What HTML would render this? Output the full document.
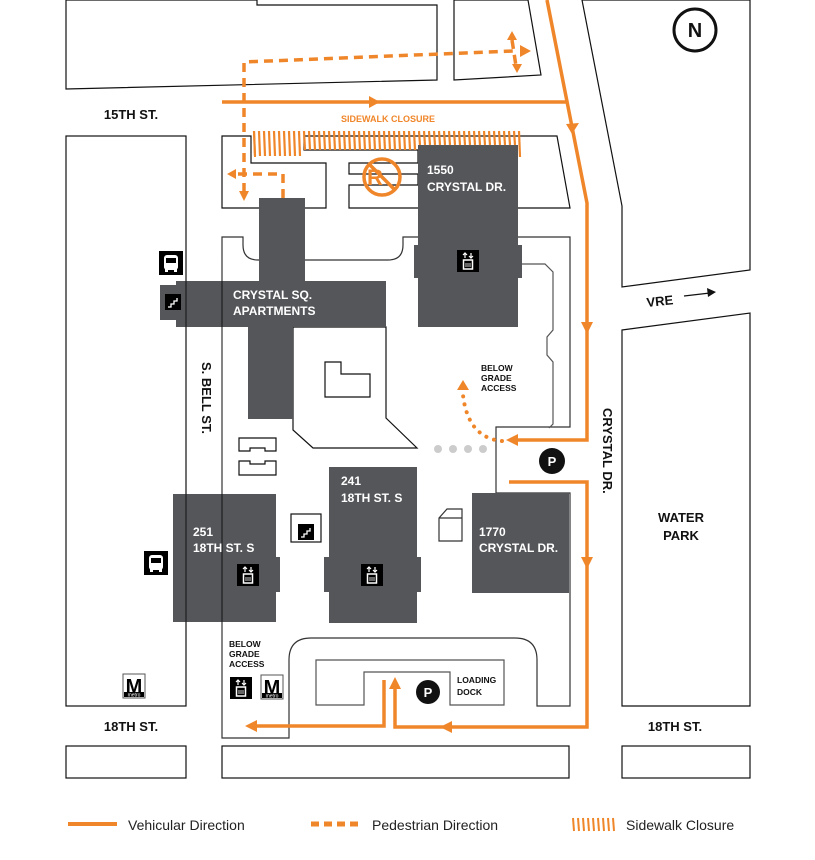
<!DOCTYPE html>
<html><head><meta charset="utf-8"><style>
html,body{margin:0;padding:0;background:#fff;}
svg{display:block;}
text{font-family:"Liberation Sans",sans-serif;}
.b{font-weight:bold;}
</style></head><body>
<svg width="815" height="860" viewBox="0 0 815 860" xmlns="http://www.w3.org/2000/svg">
<defs>
<g id="elev"><rect x="-11" y="-11" width="22" height="22" fill="#000"/><rect x="-4.5" y="-1" width="9" height="9" fill="none" stroke="#fff" stroke-width="1.5"/><path d="M-3 -3 V-8 M-5 -6 L-3 -8 L-1 -6 M3 -8 V-3 M1 -5 L3 -3 L5 -5" stroke="#fff" stroke-width="1.2" fill="none"/><path d="M-2 2 V6 M0 2 V6 M2 2 V6" stroke="#fff" stroke-width="0.8"/></g>
<g id="bus"><rect x="-12" y="-12" width="24" height="24" fill="#000"/><rect x="-7" y="-8" width="14" height="15" rx="3" fill="#fff"/><rect x="-5" y="-5" width="10" height="5" fill="#000"/><rect x="-6" y="6" width="3" height="3" fill="#fff"/><rect x="3" y="6" width="3" height="3" fill="#fff"/></g>
<g id="stair"><rect x="-8" y="-8" width="16" height="16" fill="#000"/><path d="M-5 5 H-2 V2 H1 V-1 H4 V-4" stroke="#fff" stroke-width="1.3" fill="none"/></g>
<g id="metro"><rect x="-11" y="-12" width="22" height="24" fill="#fff" stroke="#555" stroke-width="1"/><text x="0" y="7" text-anchor="middle" font-size="20" font-weight="bold" fill="#000" font-family="Liberation Sans">M</text><rect x="-10" y="6" width="20" height="5" fill="#000"/><text x="0" y="10.5" text-anchor="middle" font-size="5" fill="#fff" font-family="Liberation Sans">metro</text></g>
</defs>
<g fill="none" stroke="#111" stroke-width="1.2">
<polygon points="66,0 66,89 437,80 437,5 257,5 257,0"/>
<polygon points="454,0 454,80 541,75 528,0"/>
<polygon points="582,0 622,206 622,287 750,270 750,0"/>
<polygon points="622,330 750,313 750,706 622,706"/>
<rect x="66" y="136" width="120" height="570"/>
<polygon points="222,136 222,208 326,208 326,163 251,163 251,136"/>
<polygon points="304,136 557,136 570,208 349,208 349,185 418,185 418,174 349,174 349,163 418,163 418,150 304,150"/>
<path d="M222,738 V237 H243 V245 Q243,260 258,260 H388 Q403,260 403,245 V237 H570 V427 H496 V493 H570 V706 H537 V660 Q537,638 515,638 H311 Q289,638 289,660 V738 Z" stroke="#333"/>
<path d="M522,264 H545 L553,272 V330 L547,337 V355 L553,362 V424 L549,428" stroke="#555"/>
<polygon points="293,327 293,430 313,448 417,448 386,418 386,327"/>
<polygon points="325,362 341,362 341,374 370,374 370,397 325,397"/>
<polygon points="239,438 276,438 276,451 265,451 265,448 250,448 250,451 239,451"/>
<polygon points="239,461 250,461 250,464 265,464 265,461 276,461 276,475 239,475"/>
<polygon points="316,660 504,660 504,705 450,705 450,672 364,672 364,705 316,705" stroke="#555"/>
<rect x="291" y="514" width="30" height="28"/>
<path d="M439,518 L447,509 H462 V541 H439 Z M439,518 H462" stroke="#333"/>
<rect x="66" y="746" width="120" height="32"/>
<rect x="222" y="746" width="347" height="32"/>
<rect x="622" y="746" width="128" height="32"/>
</g>
<!-- buildings -->
<g fill="#55565a">
<rect x="418" y="145" width="100" height="182"/><rect x="414" y="245" width="108" height="33"/>
<rect x="259" y="198" width="46" height="84"/><rect x="176" y="281" width="210" height="46"/><rect x="160" y="285" width="16" height="35"/><rect x="248" y="326" width="45" height="93"/>
<rect x="173" y="494" width="103" height="128"/><rect x="276" y="557" width="4" height="35"/>
<rect x="329" y="467" width="88" height="156"/><rect x="324" y="557" width="5" height="35"/><rect x="417" y="557" width="4" height="35"/>
<rect x="472" y="493" width="97" height="100"/>
</g>
<line x1="186" y1="281" x2="186" y2="327" stroke="#111" stroke-width="1"/>
<line x1="222" y1="281" x2="222" y2="327" stroke="#111" stroke-width="1"/>
<line x1="222" y1="494" x2="222" y2="622" stroke="#111" stroke-width="1"/>
<line x1="186" y1="494" x2="186" y2="622" stroke="#111" stroke-width="1"/>
<g fill="#fff" font-size="12" class="b" font-weight="bold">
<text x="427" y="174">1550</text><text x="427" y="191">CRYSTAL DR.</text>
<text x="233" y="299">CRYSTAL SQ.</text><text x="233" y="315">APARTMENTS</text>
<text x="193" y="536">251</text><text x="193" y="552">18TH ST. S</text>
<text x="341" y="485">241</text><text x="341" y="502">18TH ST. S</text>
<text x="479" y="536">1770</text><text x="479" y="552">CRYSTAL DR.</text>
</g>
<use href="#elev" x="468" y="261"/><use href="#elev" x="248" y="575"/><use href="#elev" x="372" y="575"/><use href="#elev" x="241" y="688"/>
<use href="#bus" x="171" y="263"/><use href="#bus" x="156" y="563"/>
<use href="#stair" x="173" y="302"/><use href="#stair" x="306" y="532"/>
<use href="#metro" x="134" y="686"/><use href="#metro" x="272" y="687"/>
<!-- orange -->
<g stroke="#f0862a" stroke-width="3.5" fill="none">
<polyline points="547,0 587,203 587,440 512,440"/>
<polyline points="509,482 587,482 587,727 395,727 395,684"/>
<polyline points="384,680 384,726 252,726"/>
<line x1="222" y1="102" x2="567" y2="102"/>
<g stroke-dasharray="9,6">
<polyline points="244,192 244,62 513,51"/>
<polyline points="283,198 283,174 236,174"/>
<line x1="512" y1="40" x2="516" y2="66"/>
</g>
<circle cx="382" cy="177" r="18"/><line x1="369" y1="164" x2="395" y2="190"/>
</g>
<text x="375" y="185" font-size="22" font-weight="bold" fill="#f0862a" text-anchor="middle">R</text>
<g fill="#f0862a">
<polygon points="380,102 369,96 369,108"/>
<polygon points="572,134 566,124 579,123"/>
<polygon points="587,334 581,322 593,322"/>
<polygon points="587,569 581,557 593,557"/>
<polygon points="506,440 518,434 518,446"/>
<polygon points="440,727 452,721 452,733"/>
<polygon points="395,677 389,689 401,689"/>
<polygon points="245,726 257,720 257,732"/>
<polygon points="531,51 520,45 520,57"/>
<polygon points="512,31 507,40 517,40"/>
<polygon points="517,73 512,64 522,64"/>
<polygon points="244,201 239,191 249,191"/>
<polygon points="227,174 236,169 236,179"/>
<polygon points="463,380 457,390 469,390"/>
</g>
<path d="M502,441 Q468,438 463,395" stroke="#f0862a" stroke-width="4" stroke-linecap="round" stroke-dasharray="0.1,8" fill="none"/>
<path d="M252,131 H521 V155 H252Z" fill="none"/>
<g stroke="#f0862a" stroke-width="2">
<path id="hatch" d="M254,131 l1,26"/>
</g>
<g stroke="#f0862a" stroke-width="2.2">
<line x1="254" y1="131" x2="255" y2="156"/><line x1="259" y1="131" x2="260" y2="156"/><line x1="264" y1="131" x2="265" y2="156"/><line x1="269" y1="131" x2="270" y2="156"/><line x1="274" y1="131" x2="275" y2="156"/><line x1="279" y1="131" x2="280" y2="156"/><line x1="284" y1="131" x2="285" y2="156"/><line x1="289" y1="131" x2="290" y2="156"/><line x1="294" y1="131" x2="295" y2="156"/><line x1="299" y1="131" x2="300" y2="156"/>
<line x1="304" y1="131" x2="305" y2="150"/><line x1="309" y1="131" x2="310" y2="150"/><line x1="314" y1="131" x2="315" y2="150"/><line x1="319" y1="131" x2="320" y2="150"/><line x1="324" y1="131" x2="325" y2="150"/><line x1="329" y1="131" x2="330" y2="150"/><line x1="334" y1="131" x2="335" y2="150"/><line x1="339" y1="131" x2="340" y2="150"/><line x1="344" y1="131" x2="345" y2="150"/><line x1="349" y1="131" x2="350" y2="150"/><line x1="354" y1="131" x2="355" y2="150"/><line x1="359" y1="131" x2="360" y2="150"/><line x1="364" y1="131" x2="365" y2="150"/><line x1="369" y1="131" x2="370" y2="150"/><line x1="374" y1="131" x2="375" y2="150"/><line x1="379" y1="131" x2="380" y2="150"/><line x1="384" y1="131" x2="385" y2="150"/><line x1="389" y1="131" x2="390" y2="150"/><line x1="394" y1="131" x2="395" y2="150"/><line x1="399" y1="131" x2="400" y2="150"/><line x1="404" y1="131" x2="405" y2="150"/><line x1="409" y1="131" x2="410" y2="150"/><line x1="414" y1="131" x2="415" y2="150"/>
<line x1="419" y1="131" x2="420" y2="145"/><line x1="424" y1="131" x2="425" y2="145"/><line x1="429" y1="131" x2="430" y2="145"/><line x1="434" y1="131" x2="435" y2="145"/><line x1="439" y1="131" x2="440" y2="145"/><line x1="444" y1="131" x2="445" y2="145"/><line x1="449" y1="131" x2="450" y2="145"/><line x1="454" y1="131" x2="455" y2="145"/><line x1="459" y1="131" x2="460" y2="145"/><line x1="464" y1="131" x2="465" y2="145"/><line x1="469" y1="131" x2="470" y2="145"/><line x1="474" y1="131" x2="475" y2="145"/><line x1="479" y1="131" x2="480" y2="145"/><line x1="484" y1="131" x2="485" y2="145"/><line x1="489" y1="131" x2="490" y2="145"/><line x1="494" y1="131" x2="495" y2="145"/><line x1="499" y1="131" x2="500" y2="145"/><line x1="504" y1="131" x2="505" y2="145"/><line x1="509" y1="131" x2="510" y2="145"/><line x1="514" y1="131" x2="515" y2="145"/><line x1="519" y1="131" x2="520" y2="157"/>
</g>
<text x="388" y="122" font-size="9" font-weight="bold" fill="#f0862a" text-anchor="middle">SIDEWALK CLOSURE</text>
<g fill="#ccc"><circle cx="438" cy="449" r="4"/><circle cx="453" cy="449" r="4"/><circle cx="468" cy="449" r="4"/><circle cx="483" cy="449" r="4"/></g>
<g fill="#111"><circle cx="552" cy="461" r="13"/><circle cx="428" cy="692" r="12"/></g>
<g fill="#fff" font-size="13" font-weight="bold" text-anchor="middle"><text x="552" y="466">P</text><text x="428" y="697">P</text></g>
<g font-size="8.5" font-weight="bold" fill="#111">
<text x="481" y="371">BELOW</text><text x="481" y="381">GRADE</text><text x="481" y="391">ACCESS</text>
<text x="229" y="647">BELOW</text><text x="229" y="657">GRADE</text><text x="229" y="667">ACCESS</text>
<text x="457" y="683">LOADING</text><text x="457" y="695">DOCK</text>
</g>
<g font-size="13" font-weight="bold" fill="#111">
<text x="131" y="119" text-anchor="middle">15TH ST.</text>
<text x="131" y="731" text-anchor="middle">18TH ST.</text>
<text x="675" y="731" text-anchor="middle">18TH ST.</text>
<text x="681" y="522" text-anchor="middle">WATER</text><text x="681" y="540" text-anchor="middle">PARK</text>
<text transform="translate(202,362) rotate(90)">S. BELL ST.</text>
<text transform="translate(603,408) rotate(90)">CRYSTAL DR.</text>
<text transform="translate(647,307) rotate(-6)">VRE</text>
</g>
<line x1="684" y1="296" x2="710" y2="293" stroke="#111" stroke-width="1.2"/>
<polygon points="716,292 707,288 708,297" fill="#111"/>
<circle cx="695" cy="30" r="21" fill="none" stroke="#111" stroke-width="3"/>
<text x="695" y="37" font-size="20" font-weight="bold" text-anchor="middle" fill="#111">N</text>
<!-- legend -->
<line x1="68" y1="824" x2="117" y2="824" stroke="#f0862a" stroke-width="4"/>
<text x="128" y="830" font-size="14" fill="#222">Vehicular Direction</text>
<line x1="311" y1="824" x2="361" y2="824" stroke="#f0862a" stroke-width="5" stroke-dasharray="8,5"/>
<text x="372" y="830" font-size="14" fill="#222">Pedestrian Direction</text>
<g stroke="#f0862a" stroke-width="2"><line x1="573" y1="818" x2="574" y2="831"/><line x1="578" y1="818" x2="579" y2="831"/><line x1="583" y1="818" x2="584" y2="831"/><line x1="588" y1="818" x2="589" y2="831"/><line x1="593" y1="818" x2="594" y2="831"/><line x1="598" y1="818" x2="599" y2="831"/><line x1="603" y1="818" x2="604" y2="831"/><line x1="608" y1="818" x2="609" y2="831"/><line x1="613" y1="818" x2="614" y2="831"/></g>
<text x="626" y="830" font-size="14" fill="#222">Sidewalk Closure</text>
</svg>
</body></html>
